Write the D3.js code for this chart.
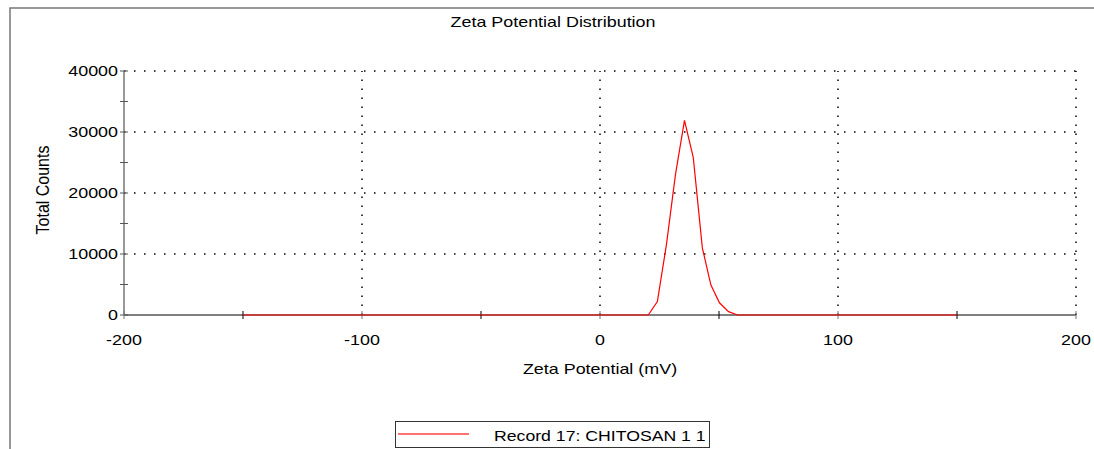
<!DOCTYPE html>
<html>
<head>
<meta charset="utf-8">
<script src="https://cdn.jsdelivr.net/npm/d3@7"></script>
<style>
  body { margin: 0; background: #fff; }
  svg { display: block; font-family: "Liberation Sans", Arial, sans-serif; }
</style>
</head>
<body>
<svg id="chart" width="1094" height="449"></svg>
<script>
// data
const zeta = [-150, 20.3, 24.1, 27.9, 31.7, 35.5, 39.2, 43.0, 46.6, 50.2, 54.0, 57.8, 150];
const counts = [0, 0, 2200, 11500, 23000, 31900, 25800, 11000, 4900, 2000, 550, 0, 0];
const xTicks = [-200, -100, 0, 100, 200];
const xMinor = [-150, -50, 50, 150];
const yTicks = [0, 10000, 20000, 30000, 40000];
const yMinor = [5000, 15000, 25000, 35000];
const seriesName = 'Record 17: CHITOSAN 1 1';

const svg = d3.select('#chart');
const sx = 1.28; // text in the picture is stretched sideways

const x = d3.scaleLinear().domain([-200, 200]).range([124, 1076]);
const y = d3.scaleLinear().domain([0, 40000]).range([315, 71]);

// outer frame
svg.append('path')
    .attr('d', 'M10,449 L10,8 L1094,8')
    .attr('fill', 'none')
    .attr('stroke', '#777')
    .attr('stroke-width', 1.5);

// title
svg.append('text')
    .attr('transform', `translate(553,27) scale(${sx},1)`)
    .attr('text-anchor', 'middle')
    .attr('font-size', 14)
    .text('Zeta Potential Distribution');

// grid
svg.append('g').selectAll('line').data(yTicks.filter(d => d > 0)).join('line')
    .attr('x1', x(-200)).attr('x2', x(200))
    .attr('y1', d => y(d)).attr('y2', d => y(d))
    .attr('stroke', '#000')
    .attr('stroke-width', 1.5)
    .attr('stroke-dasharray', '1.5,8.5');

svg.append('g').selectAll('line').data(xTicks.filter(d => d > -200)).join('line')
    .attr('x1', d => x(d)).attr('x2', d => x(d))
    .attr('y1', y(0)).attr('y2', y(40000))
    .attr('stroke', '#000')
    .attr('stroke-width', 1.5)
    .attr('stroke-dasharray', '1.5,7.5');

// axes lines
svg.append('line')
    .attr('x1', x(-200)).attr('x2', x(200))
    .attr('y1', y(0)).attr('y2', y(0))
    .attr('stroke', '#000');
svg.append('line')
    .attr('x1', x(-200)).attr('x2', x(-200))
    .attr('y1', y(0)).attr('y2', y(40000))
    .attr('stroke', '#777')
    .attr('stroke-width', 1.5);

// tick marks crossing the axes
svg.append('g').selectAll('line').data(xTicks.concat(xMinor)).join('line')
    .attr('x1', d => x(d)).attr('x2', d => x(d))
    .attr('y1', y(0) - 4).attr('y2', y(0) + 4)
    .attr('stroke', d => xTicks.includes(d) ? '#777' : '#000');
svg.append('g').selectAll('line').data(yTicks.concat(yMinor)).join('line')
    .attr('x1', x(-200) - 4).attr('x2', x(-200) + 4)
    .attr('y1', d => y(d)).attr('y2', d => y(d))
    .attr('stroke', '#555');

// tick labels
svg.append('g').selectAll('text').data(xTicks).join('text')
    .attr('transform', d => `translate(${x(d)},345) scale(${sx},1)`)
    .attr('text-anchor', 'middle')
    .attr('font-size', 14)
    .text(d => d);
svg.append('g').selectAll('text').data(yTicks).join('text')
    .attr('transform', d => `translate(${x(-200) - 6},${y(d) + 5}) scale(${sx},1)`)
    .attr('text-anchor', 'end')
    .attr('font-size', 14)
    .text(d => d);

// axis titles
svg.append('text')
    .attr('transform', `translate(600,374) scale(${sx},1)`)
    .attr('text-anchor', 'middle')
    .attr('font-size', 14)
    .text('Zeta Potential (mV)');
svg.append('text')
    .attr('transform', `translate(49,190) scale(${sx * 0.9},1) rotate(-90)`)
    .attr('text-anchor', 'middle')
    .attr('font-size', 16)
    .text('Total Counts');

// series
const pts = zeta.map((z, i) => [z, counts[i]]);
svg.append('path')
    .datum(pts)
    .attr('fill', 'none')
    .attr('stroke', '#ff0000')
    .attr('stroke-width', 1.2)
    .attr('d', d3.line().x(d => x(d[0])).y(d => y(d[1])));

// legend
const lg = svg.append('g');
lg.append('rect')
    .attr('x', 395.5).attr('y', 421.5)
    .attr('width', 314).attr('height', 26)
    .attr('fill', '#fff')
    .attr('stroke', '#333');
lg.append('path')
    .attr('d', 'M398,434H469')
    .attr('fill', 'none')
    .attr('stroke', '#ff4040')
    .attr('stroke-width', 1.5);
lg.append('text')
    .attr('transform', `translate(494,441) scale(${sx},1)`)
    .attr('font-size', 13.8)
    .text(seriesName);
</script>
</body>
</html>
